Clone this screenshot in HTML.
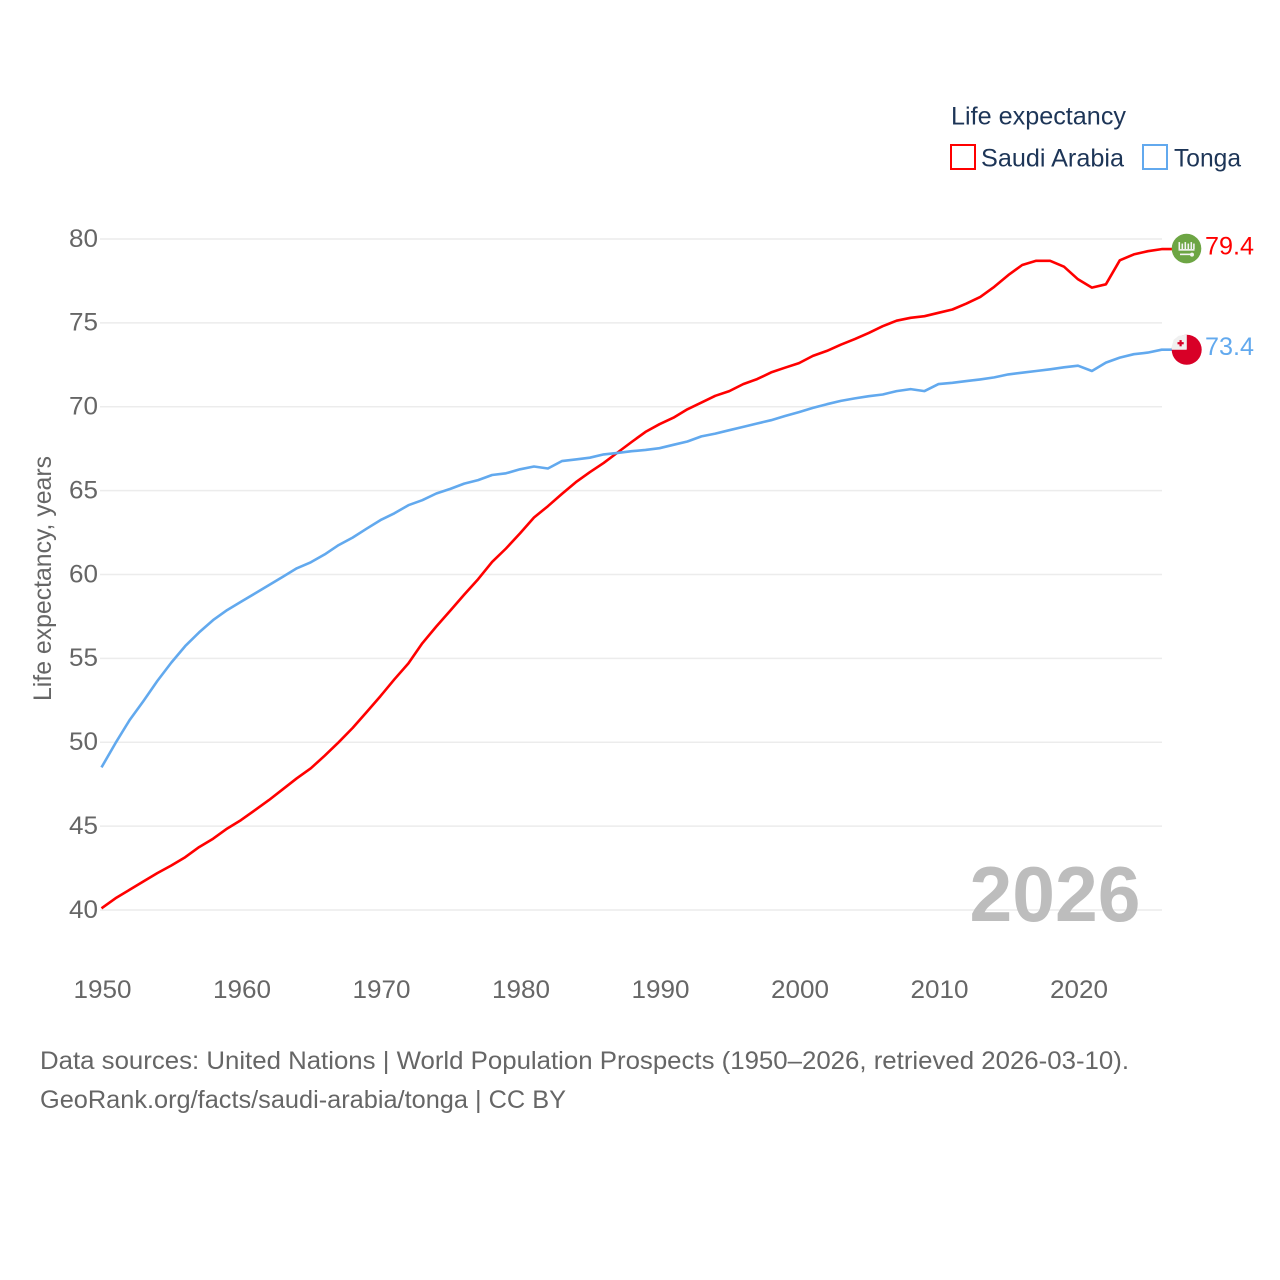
<!DOCTYPE html>
<html lang="en">
<head>
<meta charset="utf-8">
<title>Life expectancy: Saudi Arabia and Tonga</title>
<style>
html,body{margin:0;padding:0;background:#fff;width:1280px;height:1280px;overflow:hidden}
svg{display:block}
text{font-family:"Liberation Sans",sans-serif}
</style>
</head>
<body>
<svg id="chart" xmlns="http://www.w3.org/2000/svg" width="1280" height="1280" viewBox="0 0 1280 1280">
  <g id="grid"></g>
  <g id="yticks"></g>
  <g id="xticks"></g>
  <text transform="translate(51,578.5) rotate(-90)" text-anchor="middle" font-size="25" fill="#666" textLength="245" lengthAdjust="spacingAndGlyphs">Life expectancy, years</text>
  <text x="1055" y="921" text-anchor="middle" font-size="78" font-weight="700" fill="#bdbdbd" textLength="171" lengthAdjust="spacingAndGlyphs">2026</text>
  <g id="lines"></g>
  <g id="saudi-flag">
    <circle id="saudi-disc" r="14.8" fill="#6da544"></circle>
    <g id="saudi-emblem" fill="#f4f4f4">
      <rect x="-8" y="-6.5" width="1.6" height="7"></rect>
      <rect x="-5" y="-5" width="1.6" height="5.5"></rect>
      <rect x="-2" y="-6.5" width="1.6" height="7"></rect>
      <rect x="1" y="-5" width="1.6" height="5.5"></rect>
      <rect x="4" y="-6.5" width="1.6" height="7"></rect>
      <rect x="6.6" y="-5" width="1.6" height="5.5"></rect>
      <rect x="-8" y="0.5" width="16" height="1.6"></rect>
      <rect x="-6.5" y="5" width="11" height="1.6"></rect>
      <circle cx="5.5" cy="6" r="2"></circle>
    </g>
  </g>
  <g id="tonga-flag">
    <circle id="tonga-disc" r="15" fill="#d80027"></circle>
    <path d="M-15,0 A15,15 0 0 1 0,-15 L0,0 Z" fill="#f0f0f0"></path>
    <path d="M-15,-1 L-15,-3 L-13,-10 L-8,-14 L0,-15 L0,-1 Z" fill="#f0f0f0"></path>
    <rect x="-7.2" y="-9.6" width="2.2" height="6.2" fill="#d80027"></rect>
    <rect x="-9.2" y="-7.6" width="6.2" height="2.2" fill="#d80027"></rect>
  </g>
  <g id="endlabels"></g>
  <g>
    <text x="951" y="124.5" font-size="25" fill="#1d3557" textLength="175" lengthAdjust="spacingAndGlyphs">Life expectancy</text>
    <g>
      <rect x="951" y="145" width="24" height="24" fill="none" stroke="#ff0000" stroke-width="2"></rect>
      <text x="981" y="166.5" font-size="25" fill="#1d3557" textLength="143" lengthAdjust="spacingAndGlyphs">Saudi Arabia</text>
    </g>
    <g>
      <rect x="1143" y="145" width="24" height="24" fill="none" stroke="#62a9ee" stroke-width="2"></rect>
      <text x="1174" y="166.5" font-size="25" fill="#1d3557" textLength="67" lengthAdjust="spacingAndGlyphs">Tonga</text>
    </g>
  </g>
  <text x="40" y="1069" font-size="25" fill="#666" textLength="1089" lengthAdjust="spacingAndGlyphs">Data sources: United Nations | World Population Prospects (1950–2026, retrieved 2026-03-10).</text>
  <text x="40" y="1108" font-size="25" fill="#666" textLength="526" lengthAdjust="spacingAndGlyphs">GeoRank.org/facts/saudi-arabia/tonga | CC BY</text>
</svg>
<script>
const firstYear = 1950;
const xTickYears = [1950, 1960, 1970, 1980, 1990, 2000, 2010, 2020];
const yTickValues = [40, 45, 50, 55, 60, 65, 70, 75, 80];
const saudiArabiaValues = [
  40.1, 40.7, 41.2, 41.7, 42.2, 42.65, 43.15, 43.75, 44.25, 44.85,
  45.36, 45.95, 46.55, 47.2, 47.85, 48.45, 49.2, 50.0, 50.85, 51.8,
  52.75, 53.75, 54.7, 55.9, 56.9, 57.85, 58.8, 59.72, 60.75, 61.55,
  62.45, 63.4, 64.07, 64.8, 65.5, 66.1, 66.65, 67.27, 67.9, 68.5,
  68.96, 69.35, 69.85, 70.25, 70.65, 70.93, 71.35, 71.65, 72.05, 72.33,
  72.6, 73.03, 73.33, 73.7, 74.03, 74.4, 74.8, 75.13, 75.3, 75.4,
  75.6, 75.8, 76.15, 76.55, 77.15, 77.85, 78.45, 78.7, 78.7, 78.35,
  77.6, 77.1, 77.3, 78.73, 79.08, 79.27, 79.4
];
const tongaValues = [
  48.5, 49.95, 51.3, 52.45, 53.65, 54.75, 55.73, 56.55, 57.28, 57.88,
  58.37, 58.87, 59.37, 59.87, 60.37, 60.73, 61.2, 61.75, 62.2, 62.73,
  63.24, 63.65, 64.13, 64.43, 64.83, 65.1, 65.42, 65.63, 65.93, 66.03,
  66.27, 66.44, 66.32, 66.76, 66.86, 66.96, 67.16, 67.25, 67.35, 67.43,
  67.53, 67.73, 67.93, 68.23, 68.4, 68.6, 68.8, 69.0, 69.2, 69.45,
  69.68, 69.93, 70.15, 70.35, 70.5, 70.63, 70.73, 70.93, 71.05, 70.93,
  71.35, 71.43, 71.53, 71.63, 71.75, 71.93, 72.03, 72.13, 72.23, 72.35,
  72.45, 72.13, 72.63, 72.93, 73.13, 73.23, 73.4
];

const SVG_NS = 'http://www.w3.org/2000/svg';
function xScale(year) { return 101.5 + (year - 1950) * 13.95; }
function yScale(value) { return 910 - (value - 40) * 16.775; }
function create(tag, attrs, parent) {
  const el = document.createElementNS(SVG_NS, tag);
  for (const key in attrs) el.setAttribute(key, attrs[key]);
  parent.appendChild(el);
  return el;
}
const gridLayer = document.getElementById('grid');
const yLayer = document.getElementById('yticks');
const xLayer = document.getElementById('xticks');
const lineLayer = document.getElementById('lines');
const endLayer = document.getElementById('endlabels');

yTickValues.forEach(function (value) {
  const line = create('line', {x1: 100, x2: 1162, y1: yScale(value), y2: yScale(value), stroke: '#ececec', 'stroke-width': 1.6}, gridLayer);
  
  
  const label = create('text', {x: 98, y: yScale(value) + 7.8, 'text-anchor': 'end', 'font-size': 25, fill: '#666', textLength: 29, lengthAdjust: 'spacingAndGlyphs'}, yLayer);
  
  
  label.textContent = value;
});
xTickYears.forEach(function (year) {
  const label = create('text', {x: xScale(year) + 1, y: 998, 'text-anchor': 'middle', 'font-size': 25, fill: '#666', textLength: 58, lengthAdjust: 'spacingAndGlyphs'}, xLayer);
  
  
  label.textContent = year;
});
function drawSeries(values, color, slug) {
  const points = values.map(function (value, i) {
    return xScale(firstYear + i).toFixed(1) + ',' + yScale(value).toFixed(1);
  });
  const lastY = yScale(values[values.length - 1]).toFixed(1);
  points.push('1172,' + lastY);
  const path = create('polyline', {points: points.join(' '), fill: 'none', stroke: color, 'stroke-width': 2.6, 'stroke-linejoin': 'round'}, lineLayer);
  
  
  const label = create('text', {x: 1205, y: yScale(values[values.length - 1]) + 5.2, 'font-size': 25, fill: color, textLength: 49, lengthAdjust: 'spacingAndGlyphs'}, endLayer);
  
  
  label.textContent = values[values.length - 1].toFixed(1);
}
drawSeries(saudiArabiaValues, '#ff0000', 'saudi-arabia');
drawSeries(tongaValues, '#62a9ee', 'tonga');
document.getElementById('saudi-flag').setAttribute('transform', 'translate(1186.5,' + (yScale(saudiArabiaValues[saudiArabiaValues.length - 1]) - 0.5) + ')');
document.getElementById('tonga-flag').setAttribute('transform', 'translate(1186.7,' + yScale(tongaValues[tongaValues.length - 1]) + ')');
</script>
</body>
</html>
